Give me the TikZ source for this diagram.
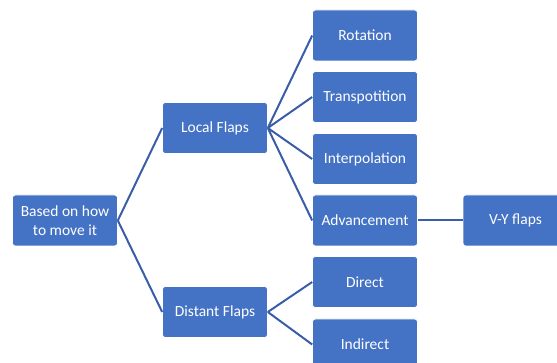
\documentclass[tikz,border=0pt]{standalone}
\usepackage{fontspec}
\setmainfont{Carlito}
\usetikzlibrary{positioning}
\definecolor{boxblue}{HTML}{4472C4}
\definecolor{lineblue}{HTML}{3A5DA8}

\begin{document}
\begin{tikzpicture}[x = 1pt, y = -1pt,
    flap/.style = {fill = boxblue, draw = white, line width = 0.6pt, rounded corners = 3pt,
      minimum width = 105pt, minimum height = 51pt, text = white, align = center,
      font = \fontsize{15.5}{19}\selectfont},
    link/.style = {draw = lineblue, line width = 2pt}]
  \useasboundingbox (0,0) rectangle (557,363);
  \node[flap] (root) at (65,220.5) {Based on how\\to move it};
  \node[flap] (local) at (215,128) {Local Flaps};
  \node[flap] (distant) at (215,312) {Distant Flaps};
  \node[flap] (rot) at (365,35.5) {Rotation};
  \node[flap] (trans) at (365,97) {Transpotition};
  \node[flap] (inter) at (365,159) {Interpolation};
  \node[flap] (adv) at (365,220.5) {Advancement};
  \node[flap] (direct) at (365,282) {Direct};
  \node[flap] (indirect) at (365,344.5) {Indirect};
  \node[flap] (vy) at (515.5,220.5) {V-Y flaps};
  \path[link] (root.east) -- (local.west)
              (root.east) -- (distant.west);
  \path[link] (local.east) -- (rot.west)
              (local.east) -- (trans.west)
              (local.east) -- (inter.west)
              (local.east) -- (adv.west);
  \path[link] (distant.east) -- (direct.west)
              (distant.east) -- (indirect.west);
  \path[link] (adv.east) -- (vy.west);
\end{tikzpicture}
\end{document}
